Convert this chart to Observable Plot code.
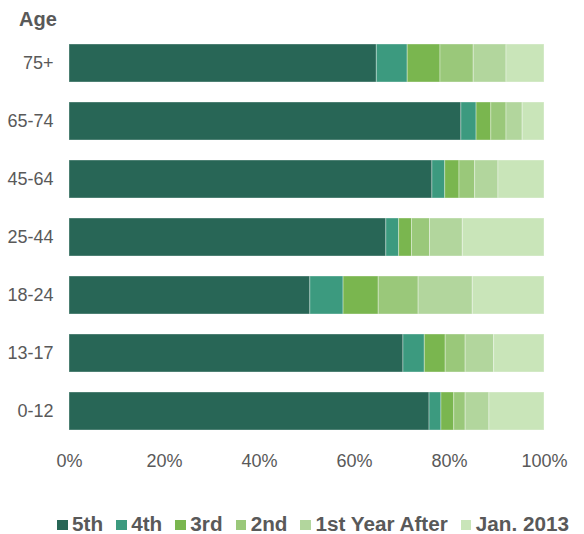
<!DOCTYPE html>
<html><head><meta charset="utf-8">
<script src="https://cdn.jsdelivr.net/npm/d3@7"></script>
<script src="https://cdn.jsdelivr.net/npm/@observablehq/plot@0.6"></script>
<style>
body{margin:0;background:#fff;font-family:"Liberation Sans",Arial,sans-serif;}
#wrap{position:relative;width:584px;height:534px;overflow:hidden;}
#title{position:absolute;left:19px;top:9px;font-weight:bold;font-size:20px;line-height:20px;color:#595959;}
#chart{position:absolute;left:0;top:34px;}
#legend{position:absolute;left:57px;top:514px;font-weight:bold;font-size:20.7px;line-height:20.7px;color:#595959;white-space:nowrap;}
.sw{display:inline-block;width:10.5px;height:10.5px;margin-right:4.6px;vertical-align:1px;}
.item{margin-right:13px;}
</style>
</head><body>
<div id="wrap">
  <div id="title">Age</div>
  <div id="chart"></div>
  <div id="legend"></div>
</div>
<script>
const ages = ["75+", "65-74", "45-64", "25-44", "18-24", "13-17", "0-12"];
const series = ["5th", "4th", "3rd", "2nd", "1st Year After", "Jan. 2013"];
const colors = ["#286656", "#3c9a7f", "#7ab64f", "#9ac87a", "#b2d69d", "#c9e5b9"];
const xTicks = [0, 0.2, 0.4, 0.6, 0.8, 1];

// values per series, in the order of ages (percent)
const v5th   = [64.7, 82.5, 76.4, 66.7, 50.7, 70.3, 75.8];
const v4th   = [6.5, 3.2, 2.7, 2.7, 7.0, 4.5, 2.5];
const v3rd   = [6.9, 3.1, 3.0, 2.7, 7.4, 4.4, 2.7];
const v2nd   = [7.0, 3.2, 3.3, 3.8, 8.4, 4.2, 2.4];
const v1st   = [6.9, 3.4, 4.9, 6.9, 11.4, 6.0, 5.0];
const vJan   = [8.0, 4.6, 9.7, 17.2, 15.1, 10.6, 11.6];
const seriesValues = [v5th, v4th, v3rd, v2nd, v1st, vJan];

const data = [];
series.forEach((s, i) => {
  ages.forEach((a, j) => data.push({series: s, age: a, value: seriesValues[i][j]}));
});

const chart = Plot.plot({
  width: 584, height: 456,
  marginLeft: 69, marginRight: 40, marginTop: 0, marginBottom: 50,
  style: {fontFamily: "Liberation Sans, Arial, sans-serif", fontSize: "18px", color: "#595959", background: "white", overflow: "visible"},
  x: {domain: [0, 1]},
  y: {domain: ages, paddingInner: 20/58, paddingOuter: 10/58},
  color: {domain: series, range: colors},
  marks: [
    Plot.barX(data, Plot.stackX({x: "value", y: "age", fill: "series", order: series, offset: "normalize", stroke: "white", strokeOpacity: 0.35, strokeWidth: 1})),
    Plot.axisY({tickSize: 0, tickPadding: 16, fontSize: 18, label: null}),
    Plot.axisX({ticks: xTicks, tickFormat: d3.format(".0%"), tickSize: 0, tickPadding: 14, fontSize: 18, label: null})
  ]
});
document.getElementById("chart").appendChild(chart);

const leg = document.getElementById("legend");
series.forEach((s, i) => {
  const item = document.createElement("span");
  item.className = "item";
  const sw = document.createElement("span");
  sw.className = "sw";
  sw.style.background = colors[i];
  item.appendChild(sw);
  item.appendChild(document.createTextNode(s));
  leg.appendChild(item);
});
</script>
</body></html>
